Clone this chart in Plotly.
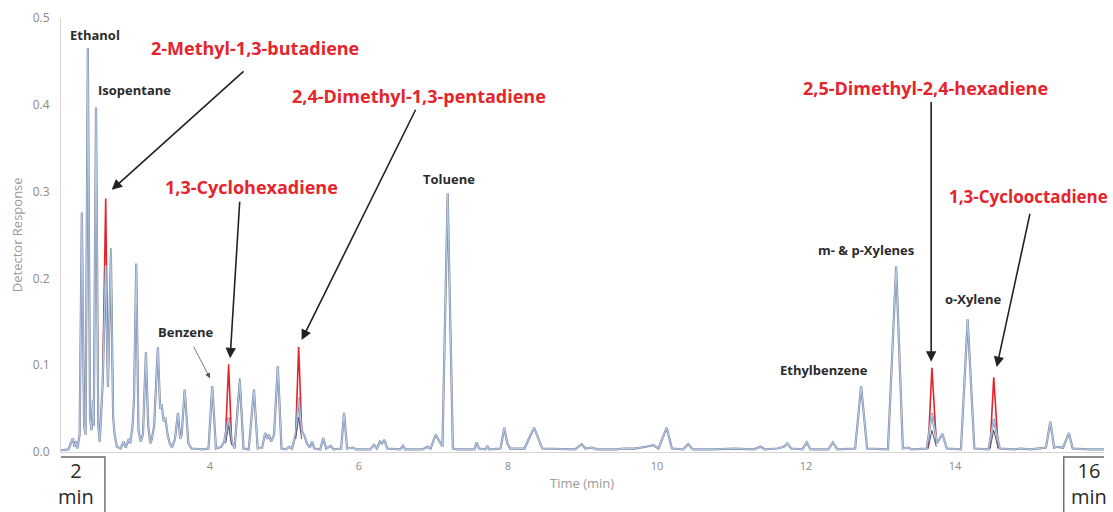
import plotly.graph_objects as go

# Chromatogram trace: retention time (min) and detector response, vertex by vertex
TIME_MIN = [
    2.00, 2.10, 2.14, 2.16, 2.18, 2.20, 2.22, 2.25, 2.28, 2.31, 2.33, 2.36, 2.39, 2.41,
    2.43, 2.44, 2.47, 2.50, 2.52, 2.54, 2.56, 2.60, 2.63, 2.67, 2.70, 2.72, 2.75, 2.80,
    2.84, 2.87, 2.91, 2.93, 2.96, 2.98, 3.01, 3.04, 3.07, 3.10, 3.14, 3.17, 3.20, 3.22,
    3.25, 3.30, 3.33, 3.35, 3.38, 3.40, 3.43, 3.46, 3.49, 3.53, 3.57, 3.60, 3.62, 3.66,
    3.69, 3.71, 3.75, 3.90, 3.98, 4.03, 4.08, 4.15, 4.19, 4.21, 4.25, 4.29, 4.33, 4.40,
    4.45, 4.52, 4.59, 4.64, 4.70, 4.74, 4.77, 4.79, 4.82, 4.86, 4.91, 4.96, 5.02, 5.06,
    5.10, 5.15, 5.19, 5.23, 5.27, 5.30, 5.34, 5.37, 5.40, 5.48, 5.52, 5.56, 5.62, 5.66,
    5.76, 5.80, 5.84, 5.92, 5.96, 6.15, 6.20, 6.24, 6.28, 6.31, 6.34, 6.38, 6.55, 6.59,
    6.62, 6.85, 6.92, 6.96, 7.03, 7.08, 7.12, 7.19, 7.26, 7.32, 7.55, 7.58, 7.61, 7.70,
    7.72, 7.75, 7.90, 7.95, 7.99, 8.03, 8.22, 8.35, 8.46, 8.90, 8.99, 9.04, 9.12, 9.20,
    9.45, 9.55, 9.70, 9.85, 9.95, 10.02, 10.13, 10.20, 10.35, 10.42, 10.48, 10.75, 11.05,
    11.30, 11.39, 11.45, 11.62, 11.70, 11.75, 11.80, 11.95, 12.01, 12.06, 12.30, 12.36,
    12.42, 12.66, 12.74, 12.82, 13.10, 13.21, 13.30, 13.37, 13.42, 13.62, 13.69, 13.76,
    13.83, 13.89, 14.08, 14.17, 14.26, 14.45, 14.52, 14.60, 14.80, 14.88, 15.02, 15.22,
    15.28, 15.33, 15.38, 15.45, 15.53, 15.58, 15.80, 16.00,
]
RESPONSE = [
    0.002, 0.003, 0.012, 0.016, 0.006, 0.012, 0.004, 0.020, 0.276, 0.030, 0.020, 0.465, 0.040, 0.025,
    0.060, 0.030, 0.397, 0.030, 0.012, 0.040, 0.080, 0.215, 0.075, 0.228, 0.040, 0.020, 0.006, 0.004,
    0.012, 0.005, 0.015, 0.010, 0.030, 0.060, 0.217, 0.025, 0.012, 0.020, 0.115, 0.030, 0.010, 0.015,
    0.030, 0.121, 0.050, 0.055, 0.035, 0.040, 0.020, 0.010, 0.005, 0.015, 0.045, 0.015, 0.020, 0.072,
    0.030, 0.010, 0.004, 0.003, 0.004, 0.076, 0.004, 0.006, 0.012, 0.020, 0.040, 0.012, 0.004, 0.082,
    0.004, 0.003, 0.072, 0.004, 0.005, 0.022, 0.015, 0.020, 0.012, 0.020, 0.099, 0.004, 0.003, 0.006,
    0.004, 0.020, 0.063, 0.025, 0.018, 0.010, 0.005, 0.012, 0.004, 0.003, 0.016, 0.004, 0.007, 0.003,
    0.004, 0.045, 0.004, 0.005, 0.003, 0.003, 0.008, 0.004, 0.012, 0.010, 0.014, 0.004, 0.003, 0.007,
    0.003, 0.003, 0.006, 0.004, 0.020, 0.012, 0.006, 0.298, 0.004, 0.003, 0.003, 0.011, 0.004, 0.003,
    0.007, 0.003, 0.004, 0.028, 0.010, 0.004, 0.004, 0.028, 0.004, 0.003, 0.009, 0.004, 0.005, 0.003,
    0.003, 0.004, 0.004, 0.006, 0.008, 0.004, 0.028, 0.004, 0.003, 0.009, 0.003, 0.003, 0.004,
    0.003, 0.006, 0.003, 0.004, 0.006, 0.010, 0.004, 0.003, 0.011, 0.003, 0.003, 0.011,
    0.003, 0.004, 0.076, 0.004, 0.003, 0.214, 0.004, 0.005, 0.003, 0.004, 0.045, 0.010,
    0.021, 0.004, 0.003, 0.153, 0.004, 0.003, 0.038, 0.004, 0.003, 0.004, 0.003, 0.005,
    0.035, 0.005, 0.006, 0.005, 0.022, 0.004, 0.003, 0.003,
]

# Spiked diene peaks (drawn beneath the main trace so only their tips show)
DIENE_TIME = [2.56, 2.60, 2.63, None, 4.21, 4.25, 4.29, None, 5.15, 5.19, 5.23, None,
              13.64, 13.69, 13.75, None, 14.47, 14.52, 14.58]
DIENE_RESP = [0.080, 0.292, 0.075, None, 0.020, 0.101, 0.012, None, 0.020, 0.121, 0.025, None,
              0.004, 0.097, 0.010, None, 0.004, 0.086, 0.004]

# Second overlaid run with slightly taller peaks at two retention times
ALT_TIME = [2.63, 2.67, 2.70, None, 4.33, 4.40, 4.45]
ALT_RESP = [0.075, 0.235, 0.040, None, 0.004, 0.085, 0.004]

# Blank run: small residual peaks at the diene retention times
BLANK_TIME = [4.21, 4.25, 4.29, None, 5.15, 5.19, 5.23, None, 13.64, 13.69, 13.75, None,
              14.47, 14.52, 14.58]
BLANK_RESP = [0.010, 0.030, 0.008, None, 0.015, 0.040, 0.015, None, 0.004, 0.025, 0.006, None,
              0.004, 0.025, 0.004]

X_TICKS = [4, 6, 8, 10, 12, 14]
Y_TICKS = [0.0, 0.1, 0.2, 0.3, 0.4, 0.5]

RED = "#e5242b"
INK = "#2b2b2b"
FONT = "Open Sans"

fig = go.Figure()
fig.add_trace(go.Scatter(x=DIENE_TIME, y=DIENE_RESP, mode="lines",
                         line=dict(color=RED, width=1.6), connectgaps=False, hoverinfo="skip"))
fig.add_trace(go.Scatter(x=ALT_TIME, y=ALT_RESP, mode="lines",
                         line=dict(color="#4f9a6a", width=1.2), connectgaps=False, hoverinfo="skip"))
fig.add_trace(go.Scatter(x=TIME_MIN, y=RESPONSE, mode="lines",
                         line=dict(color="#7e879c", width=2.2), hoverinfo="skip"))
fig.add_trace(go.Scatter(x=TIME_MIN, y=RESPONSE, mode="lines",
                         line=dict(color="#b3c9ea", width=1.1)))
fig.add_trace(go.Scatter(x=BLANK_TIME, y=BLANK_RESP, mode="lines",
                         line=dict(color="#5d5470", width=1.0), connectgaps=False, hoverinfo="skip"))

annotations = []

# Compound labels on the chromatogram
black_labels = [
    ("Ethanol", 2.46, 0.480),
    ("Isopentane", 2.98, 0.417),
    ("Toluene", 7.21, 0.3145),
    ("Benzene", 3.68, 0.138),
    ("Ethylbenzene", 12.24, 0.0945),
    ("m- &amp; p-Xylenes", 12.81, 0.233),
    ("o-Xylene", 14.24, 0.176),
]
for text, x, y in black_labels:
    annotations.append(dict(x=x, y=y, text=f"<b>{text}</b>", showarrow=False,
                            font=dict(family=FONT, size=13, color=INK)))

red_labels = [
    ("2-Methyl-1,3-butadiene", 4.60, 0.465),
    ("1,3-Cyclohexadiene", 4.56, 0.305),
    ("2,4-Dimethyl-1,3-pentadiene", 6.81, 0.410),
    ("2,5-Dimethyl-2,4-hexadiene", 13.60, 0.419),
]
for text, x, y in red_labels:
    annotations.append(dict(x=x, y=y, text=f"<b>{text}</b>", showarrow=False,
                            font=dict(family=FONT, size=18, color=RED)))
# Right-most label sits against the figure edge
annotations.append(dict(xref="paper", yref="y", x=1.006, y=0.294, xanchor="right",
                        text="<b>1,3-Cyclooctadiene</b>", showarrow=False,
                        font=dict(family=FONT, size=17, color=RED)))

# Pointer arrows: (tip x, tip y, tail x, tail y)
arrows = [
    (2.68, 0.302, 4.47, 0.440),
    (4.27, 0.108, 4.40, 0.290),
    (5.23, 0.129, 6.77, 0.396),
    (13.68, 0.104, 13.68, 0.405),
    (14.56, 0.098, 15.01, 0.276),
]
for x, y, ax, ay in arrows:
    annotations.append(dict(x=x, y=y, ax=ax, ay=ay, xref="x", yref="y", axref="x", ayref="y",
                            text="", showarrow=True, arrowhead=2, arrowsize=1.3,
                            arrowwidth=1.6, arrowcolor="#222222"))
annotations.append(dict(x=4.00, y=0.085, ax=3.77, ay=0.123, xref="x", yref="y", axref="x",
                        ayref="y", text="", showarrow=True, arrowhead=2, arrowsize=1.3,
                        arrowwidth=0.8, arrowcolor="#555555"))

# Axis titles
annotations.append(dict(xref="paper", yref="paper", x=-0.042, y=0.5, xanchor="center",
                        yanchor="middle", text="Detector Response", textangle=-90,
                        showarrow=False, font=dict(family=FONT, size=13, color="#9a9a9a")))
annotations.append(dict(xref="x", yref="paper", x=8.99, y=-0.097, text="Time (min)",
                        showarrow=False, font=dict(family=FONT, size=13, color="#9a9a9a")))

# Run start / end markers
annotations.append(dict(xref="x", yref="paper", x=2.20, y=-0.138, text="2<br>min",
                        showarrow=False, font=dict(family=FONT, size=20, color=INK)))
annotations.append(dict(xref="x", yref="paper", x=15.80, y=-0.138, text="16<br>min",
                        showarrow=False, font=dict(family=FONT, size=20, color=INK)))

box_line = dict(color="#6a6a6a", width=1.4)
shapes = [
    dict(type="rect", xref="x", yref="paper", x0=1.81, x1=2.59, y0=-0.0115, y1=-0.2,
         line=box_line),
    dict(type="rect", xref="x", yref="paper", x0=15.46, x1=16.3, y0=-0.0115, y1=-0.2,
         line=box_line),
]

fig.update_layout(
    width=1113, height=512,
    margin=dict(l=61, r=9, t=18, b=60),
    paper_bgcolor="white", plot_bgcolor="white",
    showlegend=False,
    annotations=annotations,
    shapes=shapes,
    font=dict(family=FONT),
)
fig.update_xaxes(range=[2, 16], tickvals=X_TICKS, showgrid=False, zeroline=False,
                 showline=True, linecolor="#d4d4d4", linewidth=1.2, ticks="",
                 tickfont=dict(family=FONT, size=11, color="#8a8a8a"), ticklabelstandoff=4)
fig.update_yaxes(range=[0, 0.5], tickvals=Y_TICKS, tickformat=".1f", showgrid=False,
                 zeroline=False, showline=True, linecolor="#d4d4d4", linewidth=1.2, ticks="",
                 tickfont=dict(family=FONT, size=12, color="#8a8a8a"), ticklabelstandoff=8)

fig.write_html("out.html")
